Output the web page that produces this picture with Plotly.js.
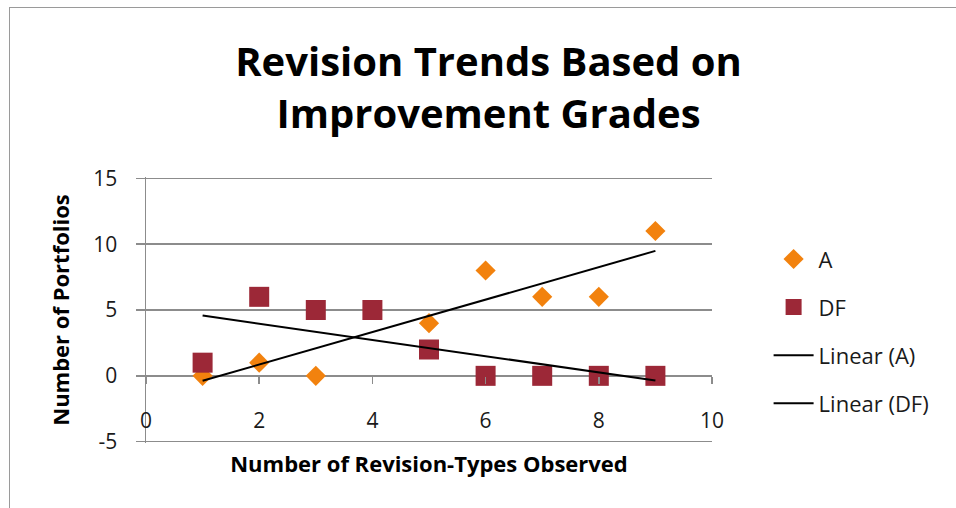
<!DOCTYPE html>
<html>
<head>
<meta charset="utf-8">
<script src="https://cdn.plot.ly/plotly-3.0.1.min.js"></script>
<style>
  html, body { margin: 0; padding: 0; background: #fff; }
  #wrap { position: relative; width: 956px; height: 508px; overflow: hidden; }
  #chart { position: absolute; left: 0; top: 0; width: 956px; height: 508px; }
  #frame { position: absolute; left: 9px; top: 7px; width: 1000px; height: 600px;
           border: 1px solid #9a9a9a; pointer-events: none; }
</style>
</head>
<body>
<div id="wrap">
  <div id="chart"></div>
  <div id="frame"></div>
</div>
<script>
// ---- data ----
const revisionTypes = [1, 2, 3, 4, 5, 6, 7, 8, 9];
const gradeA  = [0, 1, 0, 5, 4, 8, 6, 6, 11];
const gradeDF = [1, 6, 5, 5, 2, 0, 0, 0, 0];
const xTicks = [0, 2, 4, 6, 8, 10];
const yTicks = [-5, 0, 5, 10, 15];

// least-squares trend line over the series' x range (as Excel's linear trendline)
function linearFit(xs, ys) {
  const n = xs.length;
  const mx = xs.reduce((a, b) => a + b, 0) / n;
  const my = ys.reduce((a, b) => a + b, 0) / n;
  let sxy = 0, sxx = 0;
  for (let i = 0; i < n; i++) { sxy += (xs[i] - mx) * (ys[i] - my); sxx += (xs[i] - mx) ** 2; }
  const m = sxy / sxx, b = my - m * mx;
  const x0 = Math.min(...xs), x1 = Math.max(...xs);
  return { x: [x0, x1], y: [m * x0 + b, m * x1 + b] };
}
const fitA = linearFit(revisionTypes, gradeA);
const fitDF = linearFit(revisionTypes, gradeDF);

const FONT = '"Open Sans", Lato, sans-serif';
const GRID = '#8c8c8c';

const traces = [
  { x: revisionTypes, y: gradeA, name: 'A', type: 'scatter', mode: 'markers',
    marker: { symbol: 'diamond', size: 15.5, color: '#F2820E' }, legendgroup: 'g1' },
  { x: revisionTypes, y: gradeDF, name: 'DF', type: 'scatter', mode: 'markers',
    marker: { symbol: 'square', size: 20, color: '#9C2837' }, legendgroup: 'g2' },
  { x: fitA.x, y: fitA.y, name: 'Linear (A)', type: 'scatter', mode: 'lines',
    line: { color: '#000', width: 2 }, legendgroup: 'g3' },
  { x: fitDF.x, y: fitDF.y, name: 'Linear (DF)', type: 'scatter', mode: 'lines',
    line: { color: '#000', width: 2 }, legendgroup: 'g4' },
  { x: [], y: [], xaxis: 'x2', yaxis: 'y', showlegend: false, hoverinfo: 'skip', type: 'scatter' }
];

const layout = {
  width: 956, height: 508,
  margin: { l: 146, r: 244, t: 177, b: 65 },
  paper_bgcolor: 'rgba(0,0,0,0)', plot_bgcolor: 'rgba(0,0,0,0)',
  font: { family: FONT, size: 21, color: '#1a1a1a' },
  title: {
    text: '<b>Revision Trends Based on<br>Improvement Grades</b>',
    font: { family: FONT, size: 40, color: '#000' },
    x: 0.511, xanchor: 'center', y: 0.85, yanchor: 'middle', yref: 'container'
  },
  showlegend: true,
  legend: {
    x: 1.1, xanchor: 'left', y: 0.77, yanchor: 'top',
    font: { family: FONT, size: 22, color: '#1a1a1a' },
    tracegroupgap: 16.5, bgcolor: 'rgba(0,0,0,0)', itemwidth: 40
  },
  xaxis: {
    range: [0, 10], tickvals: xTicks, ticktext: xTicks.map(String),
    showgrid: false, zeroline: false, showline: false, ticks: '',
    ticklabelstandoff: -37, automargin: false,
    tickfont: { family: FONT, size: 21, color: '#1a1a1a' },
    title: { text: '<b>Number of Revision-Types Observed</b>', standoff: 23,
             font: { family: FONT, size: 22, color: '#000' } }
  },
  xaxis2: {
    overlaying: 'x', anchor: 'free', position: 0.2513, side: 'bottom',
    range: [0, 10], tickvals: xTicks, showticklabels: false,
    ticks: 'outside', ticklen: 7, tickcolor: GRID, tickwidth: 1.5,
    showgrid: false, zeroline: false, showline: false
  },
  yaxis: {
    range: [-5.1, 15.1], tickvals: yTicks, ticktext: yTicks.map(String),
    showgrid: true, gridcolor: GRID, gridwidth: 1.5,
    zeroline: true, zerolinecolor: GRID, zerolinewidth: 1.5,
    showline: true, linecolor: GRID, linewidth: 1.5,
    ticks: 'outside', ticklen: 9, tickcolor: GRID, tickwidth: 1.5,
    ticklabelstandoff: 14, automargin: false,
    tickfont: { family: FONT, size: 21, color: '#1a1a1a' },
    title: { text: '<b>Number of Portfolios</b>', standoff: 17,
             font: { family: FONT, size: 22, color: '#000' } }
  }
};

Plotly.newPlot('chart', traces, layout, { displayModeBar: false, staticPlot: true });
</script>
</body>
</html>
